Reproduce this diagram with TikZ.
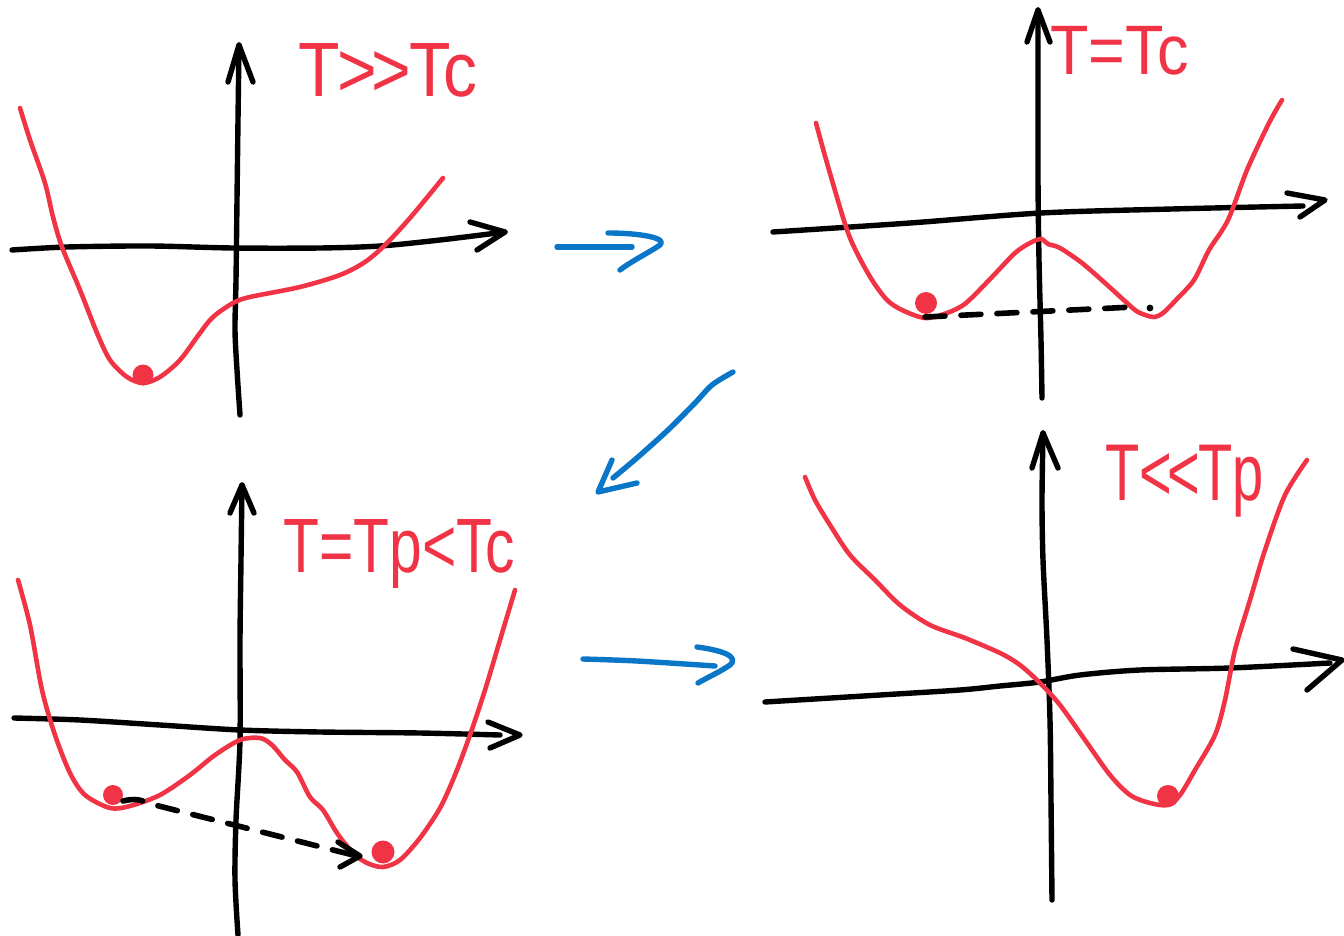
\documentclass[tikz,border=0pt]{standalone}
\usepackage{fontspec}
\setmainfont[Ligatures=NoCommon]{Liberation Sans}
\definecolor{pen}{RGB}{240,52,70}
\definecolor{bpen}{RGB}{10,118,200}
\begin{document}
\begin{tikzpicture}[x=1pt,y=-1pt,line cap=round,line join=round,
  axisline/.style={black,line width=5.4pt},
  curve/.style={pen,line width=4.6pt},
  ball/.style={pen,fill=pen},
  barrow/.style={bpen,line width=5.4pt},
  dashline/.style={black,line width=5.6pt,dash pattern=on 20pt off 16pt},
  lab/.style={pen,anchor=base west,inner sep=0pt,font=\fontsize{70}{70}\selectfont}]
\useasboundingbox (0,0) rectangle (1344,936);

% ---------- Panel 1: T >> Tc ----------
\draw[axisline] plot[smooth,tension=0.5] coordinates {(240,415) (237,370) (235,330) (236,280) (237,200) (238,120) (239,45)};
\draw[axisline] (228,82) -- (239,45) -- (253,82);
\draw[axisline] plot[smooth,tension=0.5] coordinates {(12,250) (67,247) (150,246) (233,248) (320,248) (380,246) (440,240) (505,232)};
\draw[axisline] (470,222) -- (505,232) -- (477,250);
\draw[curve] plot[smooth,tension=0.5] coordinates {(20,108) (30,140) (45,183) (53,217) (62,247) (80,290) (97,333) (110,360) (127,377) (143,383) (160,377) (180,360) (200,333) (213,317) (233,303) (250,297) (300,287) (340,275) (365,262) (385,245) (410,218) (443,178)};
\fill[ball] (143,375) circle (10.5);
\node[lab] (l1) at (298,97) {\scalebox{0.97}[1.1]{T\kern-2pt>{}\kern-6pt>{}\kern-2pt Tc}};

% ---------- Panel 2: T = Tc ----------
\draw[axisline] plot[smooth,tension=0.5] coordinates {(1042,398) (1041,340) (1039,260) (1038,180) (1038,100) (1038,10)};
\draw[axisline] (1027,42) -- (1038,10) -- (1050,42);
\draw[axisline] plot[smooth,tension=0.5] coordinates {(773,232) (910,223) (1041,213) (1172,209) (1303,206)};
\draw[axisline] (1287,193) -- (1325,200) -- (1300,217);
\draw[curve] plot[smooth,tension=0.5] coordinates {(816,123) (827,163) (846,227) (857,253) (872,280) (887,300) (902,310) (925,318) (947,313) (966,303) (992,277) (1015,253) (1030,243) (1041,239) (1048,244) (1060,248) (1082,263) (1105,283) (1127,303) (1138,312) (1153,317) (1163,313) (1176,300) (1194,280) (1209,250) (1228,220) (1247,170) (1269,123) (1282,100)};
\draw[dashline] (925,317) -- (1134,307);
\fill (1150,308) circle (3.4);
\fill[ball] (926,303) circle (11);
\node[lab] (l2) at (1050,75) {\scalebox{0.9}[1.0]{T=Tc}};

% ---------- Panel 3: T = Tp < Tc ----------
\draw[axisline] plot[smooth,tension=0.5] coordinates {(238,935) (235,880) (236,820) (240,740) (240,640) (241,560) (242,485)};
\draw[axisline] (230,513) -- (242,485) -- (254,513);
\draw[axisline] plot[smooth,tension=0.5] coordinates {(14,718) (80,720) (160,725) (240,730) (320,732) (420,733) (500,735)};
\draw[axisline] (488,722) -- (520,735) -- (490,748);
\draw[curve] plot[smooth,tension=0.5] coordinates {(18,580) (30,625) (42,690) (55,735) (70,773) (85,795) (110,808) (130,806) (160,795) (190,775) (215,755) (240,740) (260,738) (272,745) (285,760) (297,772) (310,797) (323,810) (337,833) (353,853) (367,863) (383,867) (400,860) (420,838) (440,808) (455,775) (470,735) (485,690) (500,640) (515,590)};
\fill[ball] (113,795) circle (10);
\fill[ball] (383,852) circle (11.5);
\draw[dashline] (123,801) .. controls (135,798) and (142,800) .. (147,803) -- (357,856);
\draw[axisline] (338,842) -- (360,856) -- (340,867);
\node[lab] (l3) at (283,572) {\scalebox{0.84}[1.1]{T=Tp<Tc}};

% ---------- Panel 4: T << Tp ----------
\draw[axisline] plot[smooth,tension=0.5] coordinates {(1052,900) (1051,800) (1050,720) (1047,640) (1043,560) (1042,500) (1043,433)};
\draw[axisline] (1032,468) -- (1043,433) -- (1058,468);
\draw[axisline] plot[smooth,tension=0.5] coordinates {(765,702) (880,695) (960,690) (1000,686) (1040,682) (1080,675) (1140,670) (1230,668) (1330,663)};
\draw[axisline] (1293,649) -- (1342,660) -- (1307,690);
\draw[curve] plot[smooth,tension=0.5] coordinates {(805,477) (815,500) (830,525) (850,555) (875,580) (900,605) (930,625) (965,638) (1000,653) (1020,665) (1040,683) (1060,705) (1085,740) (1110,775) (1130,795) (1150,803) (1168,805) (1180,795) (1195,770) (1215,735) (1225,700) (1235,650) (1250,600) (1265,550) (1285,495) (1307,460)};
\fill[ball] (1168,796) circle (11);
\node[lab] (l4) at (1105,500) {\scalebox{0.8}[1.15]{T<{}\kern-6pt<{}\kern-2pt Tp}};

% ---------- Blue transition arrows ----------
\draw[barrow] (557,247) -- (632,247);
\draw[barrow] (608,233) .. controls (640,233) and (668,238) .. (660,245) .. controls (650,252) and (630,262) .. (620,270);
\draw[barrow] plot[smooth,tension=0.5] coordinates {(733,372) (712,385) (695,403) (668,430) (638,457) (613,478)};
\draw[barrow] (612,460) -- (598,492) -- (637,483);
\draw[barrow] plot[smooth,tension=0.5] coordinates {(583,659) (637,661) (715,666)};
\draw[barrow] (697,647) .. controls (720,650) and (740,656) .. (730,665) .. controls (720,672) and (708,677) .. (698,683);
\end{tikzpicture}
\end{document}
